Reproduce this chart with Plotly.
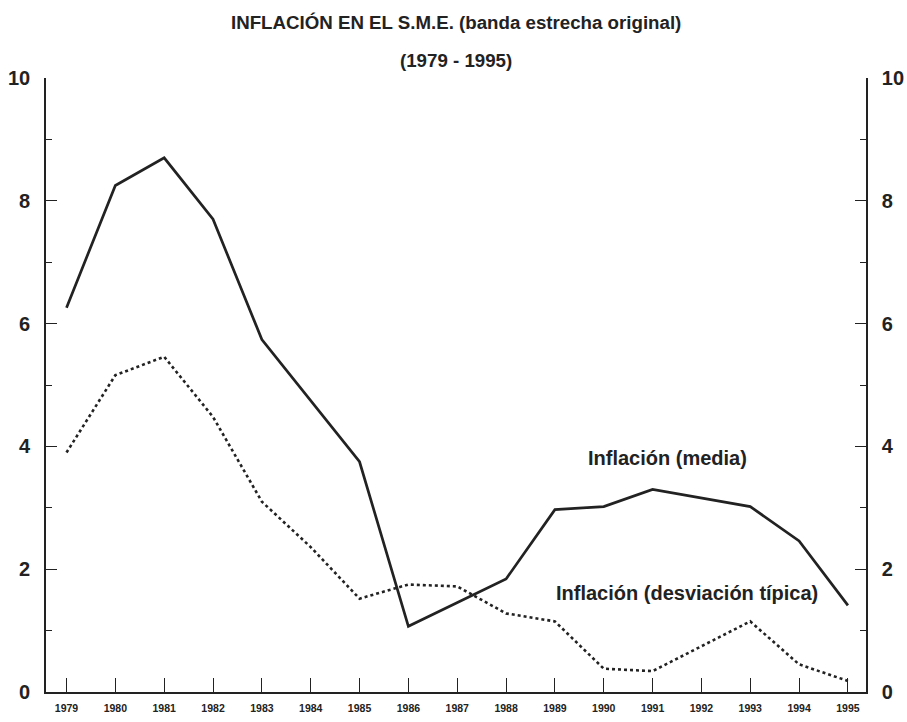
import plotly.graph_objects as go

years = list(range(1979, 1996))
media = [6.26, 8.25, 8.70, 7.70, 5.74, 4.75, 3.75, 1.07, 1.45, 1.84, 2.97, 3.02, 3.30, 3.16, 3.02, 2.46, 1.41]
desv = [3.90, 5.16, 5.46, 4.48, 3.10, 2.36, 1.52, 1.75, 1.72, 1.28, 1.15, 0.38, 0.34, 0.75, 1.15, 0.45, 0.18]
y_ticks = [0, 2, 4, 6, 8, 10]

FONT = "Liberation Sans, Arial, sans-serif"
INK = "#222222"

fig = go.Figure()
fig.add_trace(go.Scatter(x=years, y=media, mode="lines",
                         line=dict(color=INK, width=2.7), showlegend=False))
fig.add_trace(go.Scatter(x=years, y=desv, mode="lines",
                         line=dict(color=INK, width=2.6, dash="dot"), showlegend=False))
fig.add_trace(go.Scatter(x=[years[0]], y=[media[0]], yaxis="y2", mode="lines",
                         line=dict(width=0), showlegend=False, hoverinfo="skip", opacity=0))

yax_common = dict(range=[0, 10], tickmode="array", tickvals=y_ticks, ticks="inside",
                  ticklen=11, tickwidth=1.3, tickcolor=INK, showline=True,
                  linecolor=INK, linewidth=1.6, showgrid=False, zeroline=False,
                  automargin=False,
                  minor=dict(dtick=1, ticks="inside", ticklen=6, tickcolor=INK, tickwidth=1),
                  tickfont=dict(size=20, weight="bold", family=FONT, color=INK))

fig.update_layout(
    width=907, height=722,
    margin=dict(l=46, r=41, t=78, b=30),
    paper_bgcolor="white", plot_bgcolor="white",
    font=dict(family=FONT, color=INK),
    xaxis=dict(range=[1978.58, 1995.37], tickmode="array", tickvals=years,
               ticktext=[str(y) for y in years], ticks="inside", ticklen=14,
               tickwidth=1.3, tickcolor=INK, showline=True, linecolor=INK,
               linewidth=1.6, showgrid=False, zeroline=False, automargin=False,
               tickfont=dict(size=10.5, family=FONT, weight="bold", color=INK),
               ticklabelstandoff=6),
    yaxis=dict(ticklabelstandoff=10, **yax_common),
    yaxis2=dict(overlaying="y", side="right", ticklabelstandoff=10, **yax_common),
    annotations=[
        dict(text="INFLACIÓN EN EL S.M.E. (banda estrecha original)", xref="paper", yref="paper",
             x=0.5, y=1.0, yanchor="middle", yshift=56, showarrow=False,
             font=dict(size=18.7, weight="bold")),
        dict(text="(1979 - 1995)", xref="paper", yref="paper", x=0.5, y=1.0,
             yanchor="middle", yshift=18, showarrow=False, font=dict(size=18.7, weight="bold")),
        dict(text="Inflación (media)", x=1991.30, y=3.81, xref="x", yref="y",
             showarrow=False, font=dict(size=20, weight="bold")),
        dict(text="Inflación (desviación típica)", x=1991.70, y=1.61, xref="x", yref="y",
             showarrow=False, font=dict(size=20, weight="bold")),
    ],
)

# remove the browser's default 8px body margin so the 907x722 figure fills the window
fig.write_html("out.html", config={"displayModeBar": False},
               post_script="document.body.style.margin='0';document.body.style.overflow='hidden';")
